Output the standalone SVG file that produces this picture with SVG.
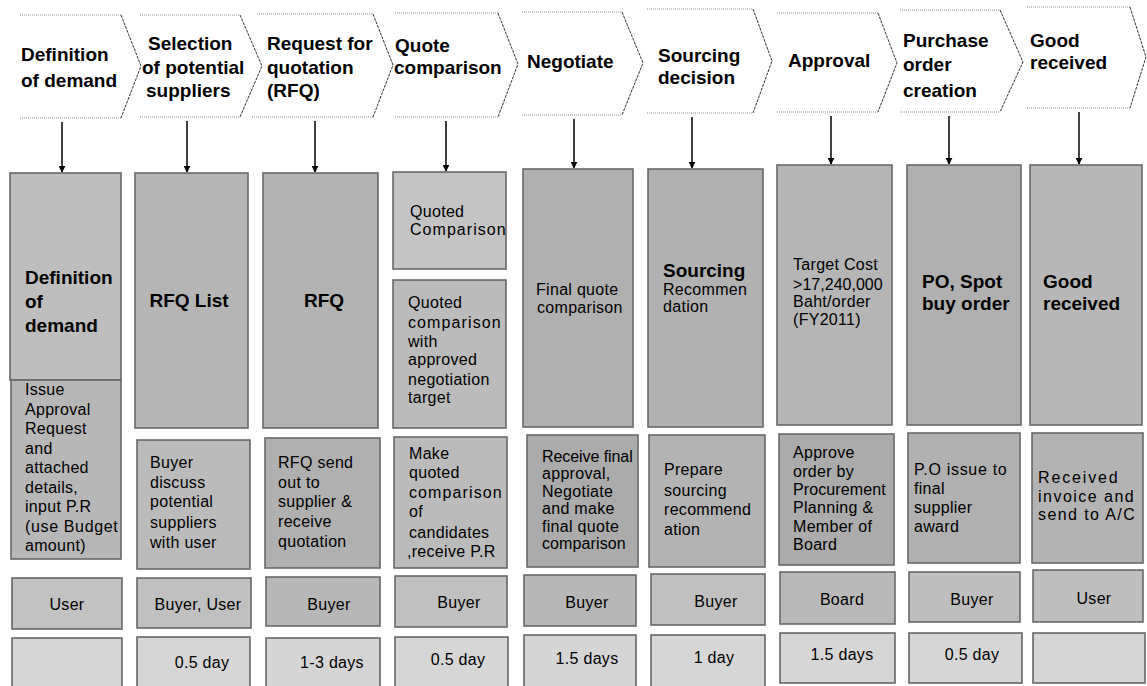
<svg xmlns="http://www.w3.org/2000/svg" width="1147" height="686" viewBox="0 0 1147 686">
<style>
.chev-edge{fill:none;stroke:#8a8a8a;stroke-width:1;stroke-dasharray:1 1}
.chev-side{fill:none;stroke:#333;stroke-width:1;stroke-dasharray:3 1}
.ct{font-family:"Liberation Sans",Arial,sans-serif;font-weight:bold;font-size:19px;fill:#000}
.box{stroke:#1a1a1a;stroke-width:1.5;filter:url(#grain)}
.bt{font-family:"Liberation Sans",Arial,sans-serif;font-weight:bold;font-size:19px;fill:#000}
.rt{font-family:"Liberation Sans",Arial,sans-serif;font-size:16px;letter-spacing:0.3px;fill:#000}
.mid{text-anchor:middle}
.conn{stroke:#000;stroke-width:1.5;fill:none}
</style>
<defs>
<marker id="ah" viewBox="0 0 10 10" refX="9" refY="5" markerWidth="7" markerHeight="7" orient="auto" markerUnits="userSpaceOnUse">
<path d="M0,0 L10,5 L0,10 z" fill="#000"/>
</marker>
<filter id="grain" x="-0.1" y="-0.1" width="1.2" height="1.2">
<feTurbulence type="fractalNoise" baseFrequency="2" numOctaves="1" seed="7" result="t"/>
<feColorMatrix in="t" type="matrix" values="0 0 0 0 0  0 0 0 0 0  0 0 0 0 0  1.8 0 0 0 -0.75" result="d"/>
<feColorMatrix in="t" type="matrix" values="0 0 0 0 1  0 0 0 0 1  0 0 0 0 1  0 1.8 0 0 -0.75" result="w"/>
<feComposite in="d" in2="SourceAlpha" operator="in" result="dm"/>
<feComposite in="w" in2="SourceAlpha" operator="in" result="wm"/>
<feMerge><feMergeNode in="SourceGraphic"/><feMergeNode in="dm"/><feMergeNode in="wm"/></feMerge>
</filter>
</defs>

<!-- Chevrons -->
<g id="chev1">
<line class="chev-edge" x1="20" y1="15" x2="121" y2="15"/><line class="chev-edge" x1="20" y1="118" x2="121" y2="118"/>
<polyline class="chev-side" points="121,15 141,66 121,118"/>
<text class="ct" x="21" y="61">Definition</text><text class="ct" x="21" y="87">of demand</text>
</g>
<g id="chev2">
<line class="chev-edge" x1="140" y1="15" x2="240" y2="15"/><line class="chev-edge" x1="140" y1="117" x2="240" y2="117"/>
<polyline class="chev-side" points="240,15 262,66 240,117"/>
<text class="ct" x="148" y="50">Selection</text><text class="ct" x="142" y="74">of potential</text><text class="ct" x="146" y="97">suppliers</text>
</g>
<g id="chev3">
<line class="chev-edge" x1="257" y1="14" x2="373" y2="14"/><line class="chev-edge" x1="252" y1="117" x2="373" y2="117"/>
<polyline class="chev-side" points="373,14 393,65 373,117"/>
<text class="ct" x="267" y="50">Request for</text><text class="ct" x="267" y="74">quotation</text><text class="ct" x="267" y="97">(RFQ)</text>
</g>
<g id="chev4">
<line class="chev-edge" x1="395" y1="13" x2="498" y2="13"/><line class="chev-edge" x1="395" y1="117" x2="498" y2="117"/>
<polyline class="chev-side" points="498,13 518,64 498,117"/>
<text class="ct" x="395" y="52">Quote</text><text class="ct" x="394" y="74">comparison</text>
</g>
<g id="chev5">
<line class="chev-edge" x1="522" y1="12" x2="622" y2="12"/><line class="chev-edge" x1="522" y1="115" x2="622" y2="115"/>
<polyline class="chev-side" points="622,12 643,63 622,115"/>
<text class="ct" x="527" y="68">Negotiate</text>
</g>
<g id="chev6">
<line class="chev-edge" x1="647" y1="9" x2="753" y2="9"/><line class="chev-edge" x1="647" y1="113" x2="753" y2="113"/>
<polyline class="chev-side" points="753,9 772,61 753,113"/>
<text class="ct" x="658" y="62">Sourcing</text><text class="ct" x="658" y="84">decision</text>
</g>
<g id="chev7">
<line class="chev-edge" x1="777" y1="13" x2="878" y2="13"/><line class="chev-edge" x1="777" y1="112" x2="878" y2="112"/>
<polyline class="chev-side" points="878,13 897,63 878,112"/>
<text class="ct" x="788" y="67">Approval</text>
</g>
<g id="chev8">
<line class="chev-edge" x1="900" y1="10" x2="1000" y2="10"/><line class="chev-edge" x1="900" y1="112" x2="1000" y2="112"/>
<polyline class="chev-side" points="1000,10 1023,62 1000,112"/>
<text class="ct" x="903" y="47">Purchase</text><text class="ct" x="903" y="71">order</text><text class="ct" x="903" y="97">creation</text>
</g>
<g id="chev9">
<line class="chev-edge" x1="1027" y1="7" x2="1130" y2="7"/><line class="chev-edge" x1="1027" y1="108" x2="1130" y2="108"/>
<polyline class="chev-side" points="1130,7 1146,57 1130,108"/>
<text class="ct" x="1030" y="47">Good</text><text class="ct" x="1030" y="69">received</text>
</g>

<!-- Connectors -->
<g id="connectors">
<line class="conn" x1="62" y1="122" x2="62" y2="172" marker-end="url(#ah)"/>
<line class="conn" x1="187" y1="121" x2="187" y2="172" marker-end="url(#ah)"/>
<line class="conn" x1="315" y1="121" x2="315" y2="172" marker-end="url(#ah)"/>
<line class="conn" x1="446" y1="121" x2="446" y2="171" marker-end="url(#ah)"/>
<line class="conn" x1="574" y1="119" x2="574" y2="168" marker-end="url(#ah)"/>
<line class="conn" x1="692" y1="117" x2="692" y2="168" marker-end="url(#ah)"/>
<line class="conn" x1="831" y1="116" x2="831" y2="164" marker-end="url(#ah)"/>
<line class="conn" x1="949" y1="116" x2="949" y2="164" marker-end="url(#ah)"/>
<line class="conn" x1="1079" y1="112" x2="1079" y2="164" marker-end="url(#ah)"/>
</g>

<!-- Column 1 -->
<g id="col1-main">
<rect class="box" x="10" y="173" width="111" height="207" fill="#bdbdbd"/>
<text class="bt" x="25" y="284">Definition</text><text class="bt" x="25" y="308">of</text><text class="bt" x="25" y="332">demand</text>
</g>
<g id="col1-desc">
<rect class="box" x="11" y="380" width="110" height="179" fill="#b4b4b4"/>
<text class="rt" x="25" y="395">Issue</text><text class="rt" x="25" y="414.5">Approval</text><text class="rt" x="25" y="434">Request</text><text class="rt" x="25" y="453.5">and</text><text class="rt" x="25" y="473">attached</text><text class="rt" x="25" y="492.5">details,</text><text class="rt" x="25" y="512">input P.R</text><text class="rt" x="25" y="531.5" textLength="93">(use Budget</text><text class="rt" x="25" y="551">amount)</text>
</g>
<g id="col1-role"><rect class="box" x="12" y="578" width="110" height="51" fill="#c2c2c2"/><text class="rt mid" x="67" y="610">User</text></g>
<g id="col1-time"><rect class="box" x="12" y="638" width="110" height="52" fill="#dedede"/></g>

<!-- Column 2 -->
<g id="col2-main"><rect class="box" x="135" y="173" width="113" height="255" fill="#b0b0b0"/><text class="bt mid" x="189" y="307">RFQ List</text></g>
<g id="col2-desc"><rect class="box" x="137" y="440" width="113" height="129" fill="#b9b9b9"/>
<text class="rt" x="150" y="468">Buyer</text><text class="rt" x="150" y="488">discuss</text><text class="rt" x="150" y="507">potential</text><text class="rt" x="150" y="528">suppliers</text><text class="rt" x="150" y="548">with user</text></g>
<g id="col2-role"><rect class="box" x="137" y="578" width="114" height="50" fill="#c0c0c0"/><text class="rt mid" x="198" y="610">Buyer, User</text></g>
<g id="col2-time"><rect class="box" x="137" y="637" width="113" height="53" fill="#dedede"/><text class="rt mid" x="202" y="668">0.5 day</text></g>

<!-- Column 3 -->
<g id="col3-main"><rect class="box" x="263" y="173" width="115" height="255" fill="#adadad"/><text class="bt mid" x="324" y="307">RFQ</text></g>
<g id="col3-desc"><rect class="box" x="265" y="438" width="115" height="130" fill="#a9a9a9"/>
<text class="rt" x="278" y="468">RFQ send</text><text class="rt" x="278" y="488">out to</text><text class="rt" x="278" y="507">supplier &amp;</text><text class="rt" x="278" y="527">receive</text><text class="rt" x="278" y="547">quotation</text></g>
<g id="col3-role"><rect class="box" x="266" y="577" width="114" height="49" fill="#b3b3b3"/><text class="rt mid" x="329" y="610">Buyer</text></g>
<g id="col3-time"><rect class="box" x="266" y="638" width="114" height="52" fill="#dcdcdc"/><text class="rt mid" x="332" y="668">1-3 days</text></g>

<!-- Column 4 -->
<g id="col4-top"><rect class="box" x="393" y="172" width="113" height="97" fill="#c4c4c4"/>
<text class="rt" x="410" y="217">Quoted</text><text class="rt" x="410" y="235" textLength="96">Comparison</text></g>
<g id="col4-main"><rect class="box" x="393" y="280" width="113" height="148" fill="#b9b9b9"/>
<text class="rt" x="408" y="308">Quoted</text><text class="rt" x="408" y="328" textLength="93">comparison</text><text class="rt" x="408" y="347">with</text><text class="rt" x="408" y="365">approved</text><text class="rt" x="408" y="385">negotiation</text><text class="rt" x="408" y="403">target</text></g>
<g id="col4-desc"><rect class="box" x="394" y="437" width="113" height="131" fill="#b9b9b9"/>
<text class="rt" x="409" y="459">Make</text><text class="rt" x="409" y="478">quoted</text><text class="rt" x="409" y="498" textLength="93">comparison</text><text class="rt" x="409" y="517">of</text><text class="rt" x="409" y="538">candidates</text><text class="rt" x="407" y="557">,receive P.R</text></g>
<g id="col4-role"><rect class="box" x="395" y="576" width="112" height="51" fill="#c0c0c0"/><text class="rt mid" x="459" y="608">Buyer</text></g>
<g id="col4-time"><rect class="box" x="395" y="637" width="113" height="53" fill="#dedede"/><text class="rt mid" x="458" y="665">0.5 day</text></g>

<!-- Column 5 -->
<g id="col5-main"><rect class="box" x="523" y="169" width="110" height="258" fill="#a9a9a9"/>
<text class="rt" x="536" y="295">Final quote</text><text class="rt" x="537" y="313">comparison</text></g>
<g id="col5-desc"><rect class="box" x="527" y="435" width="111" height="132" fill="#a2a2a2"/>
<text class="rt" x="542" y="462" textLength="91">Receive final</text><text class="rt" x="542" y="479">approval,</text><text class="rt" x="542" y="497">Negotiate</text><text class="rt" x="542" y="514">and make</text><text class="rt" x="542" y="532">final quote</text><text class="rt" x="542" y="549" textLength="84">comparison</text></g>
<g id="col5-role"><rect class="box" x="524" y="575" width="112" height="51" fill="#b2b2b2"/><text class="rt mid" x="587" y="608">Buyer</text></g>
<g id="col5-time"><rect class="box" x="524" y="635" width="112" height="55" fill="#dcdcdc"/><text class="rt mid" x="587" y="664">1.5 days</text></g>

<!-- Column 6 -->
<g id="col6-main"><rect class="box" x="648" y="169" width="115" height="258" fill="#ababab"/>
<text class="bt" x="663" y="277" font-size="18">Sourcing</text><text class="rt" x="663" y="295">Recommen</text><text class="rt" x="663" y="312">dation</text></g>
<g id="col6-desc"><rect class="box" x="649" y="435" width="116" height="132" fill="#adadad"/>
<text class="rt" x="664" y="475">Prepare</text><text class="rt" x="664" y="496">sourcing</text><text class="rt" x="664" y="515">recommend</text><text class="rt" x="664" y="535">ation</text></g>
<g id="col6-role"><rect class="box" x="651" y="574" width="114" height="51" fill="#bfbfbf"/><text class="rt mid" x="716" y="607">Buyer</text></g>
<g id="col6-time"><rect class="box" x="651" y="635" width="114" height="55" fill="#dedede"/><text class="rt mid" x="714" y="663">1 day</text></g>

<!-- Column 7 -->
<g id="col7-main"><rect class="box" x="777" y="165" width="115" height="260" fill="#b0b0b0"/>
<text class="rt" x="793" y="270">Target Cost</text><text class="rt" x="793" y="290" textLength="90">&gt;17,240,000</text><text class="rt" x="793" y="307">Baht/order</text><text class="rt" x="793" y="325">(FY2011)</text></g>
<g id="col7-desc"><rect class="box" x="779" y="434" width="115" height="131" fill="#a2a2a2"/>
<text class="rt" x="793" y="458">Approve</text><text class="rt" x="793" y="477">order by</text><text class="rt" x="793" y="495" textLength="93">Procurement</text><text class="rt" x="793" y="513">Planning &amp;</text><text class="rt" x="793" y="532">Member of</text><text class="rt" x="793" y="550">Board</text></g>
<g id="col7-role"><rect class="box" x="780" y="572" width="115" height="52" fill="#b6b6b6"/><text class="rt mid" x="842" y="605">Board</text></g>
<g id="col7-time"><rect class="box" x="780" y="633" width="115" height="50" fill="#dedede"/><text class="rt mid" x="842" y="660">1.5 days</text></g>

<!-- Column 8 -->
<g id="col8-main"><rect class="box" x="907" y="165" width="114" height="260" fill="#a9a9a9"/>
<text class="bt" x="922" y="288">PO, Spot</text><text class="bt" x="922" y="310">buy order</text></g>
<g id="col8-desc"><rect class="box" x="908" y="433" width="112" height="130" fill="#a8a8a8"/>
<text class="rt" x="914" y="475" textLength="93">P.O issue to</text><text class="rt" x="914" y="494">final</text><text class="rt" x="914" y="513">supplier</text><text class="rt" x="914" y="532">award</text></g>
<g id="col8-role"><rect class="box" x="909" y="572" width="111" height="50" fill="#bdbdbd"/><text class="rt mid" x="972" y="605">Buyer</text></g>
<g id="col8-time"><rect class="box" x="909" y="633" width="113" height="50" fill="#dedede"/><text class="rt mid" x="972" y="660">0.5 day</text></g>

<!-- Column 9 -->
<g id="col9-main"><rect class="box" x="1030" y="165" width="112" height="260" fill="#b3b3b3"/>
<text class="bt" x="1043" y="288">Good</text><text class="bt" x="1043" y="310">received</text></g>
<g id="col9-desc"><rect class="box" x="1032" y="433" width="111" height="130" fill="#adadad"/>
<text class="rt" x="1038" y="483" textLength="80">Received</text><text class="rt" x="1038" y="502" textLength="96">invoice and</text><text class="rt" x="1038" y="520" textLength="97">send to A/C</text></g>
<g id="col9-role"><rect class="box" x="1033" y="570" width="110" height="52" fill="#bdbdbd"/><text class="rt mid" x="1094" y="604">User</text></g>
<g id="col9-time"><rect class="box" x="1033" y="633" width="112" height="50" fill="#dedede"/></g>
</svg>
